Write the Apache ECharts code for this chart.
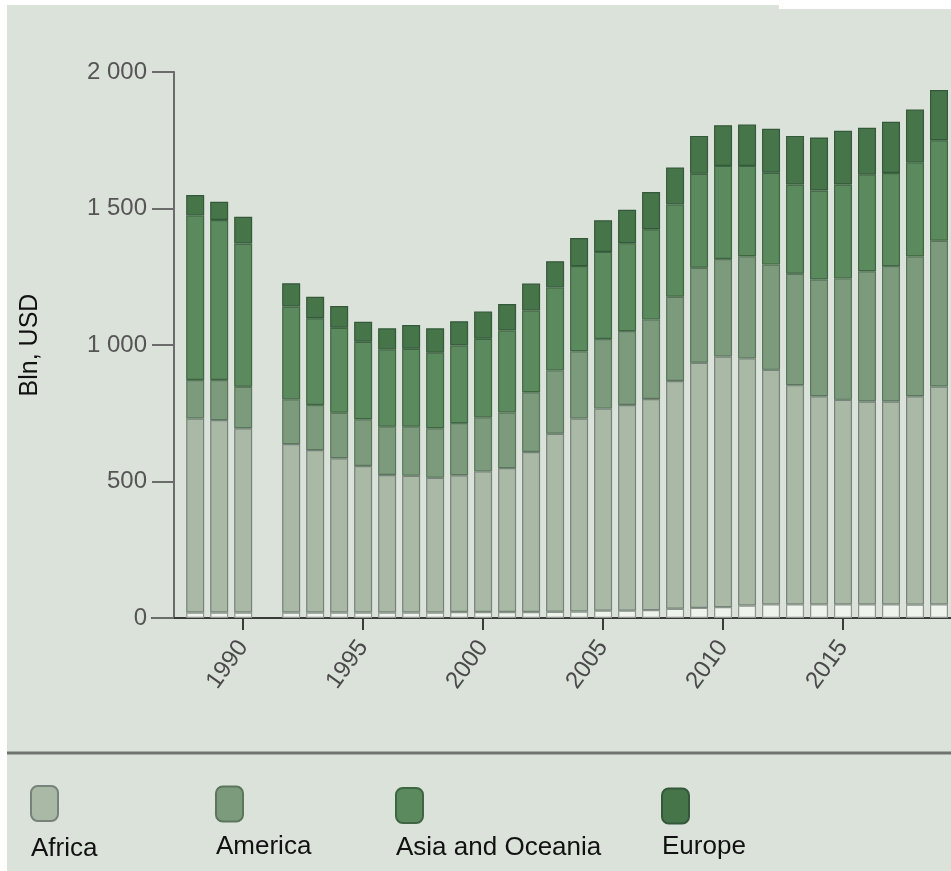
<!DOCTYPE html>
<html>
<head>
<meta charset="utf-8">
<script src="https://cdn.jsdelivr.net/npm/echarts@6/dist/echarts.min.js"></script>
<style>html,body{margin:0;padding:0;background:#fff;}#c{width:951px;height:871px;}</style>
</head>
<body>
<div id="c"></div>
<script>
const years = [1988,1989,1990,1991,1992,1993,1994,1995,1996,1997,1998,1999,2000,2001,2002,2003,2004,2005,2006,2007,2008,2009,2010,2011,2012,2013,2014,2015,2016,2017,2018,2019];
const other   = [20,20,20,null,20,20,20,20,20,20,20,22,22,22,22,23,24,27,27,29,34,37,40,46,50,50,50,50,50,50,49,50];
const africa  = [711,705,675,null,617,595,565,537,504,501,494,501,515,527,586,652,707,740,753,773,834,898,918,905,859,803,762,749,743,743,763,798];
const america = [141,147,152,null,164,165,167,171,177,180,181,191,198,204,219,232,246,255,271,291,309,348,357,374,386,408,428,445,477,496,512,534];
const asia    = [602,586,525,null,340,318,311,284,283,285,277,284,288,300,299,304,312,319,322,331,338,344,341,331,336,327,326,344,354,341,345,368];
const europe  = [75,67,98,null,85,79,80,73,77,87,89,89,100,97,99,96,103,116,122,136,135,139,149,152,161,178,194,197,172,188,194,184];
const xTicks  = [1990,1995,2000,2005,2010,2015];

const FONT = '"Liberation Sans", Arial, sans-serif';
const colors = {Other:'#eef3ec', Africa:'#a9b9a6', America:'#7b9b7c', 'Asia and Oceania':'#5c8a5f', Europe:'#46754a'};
const borders = {Other:'#8b958a', Africa:'#76827a', America:'#5b765c', 'Asia and Oceania':'#3f6642', Europe:'#34583a'};

function mk(name, arr){
  return {
    name: name, type:'bar', stack:'total', barWidth:18,
    // value first so that the value dimension is the stacked one
    data: years.map((y,i)=>[arr[i], y]),
    encode:{x:1, y:0},
    itemStyle:{color:colors[name], borderColor:borders[name], borderWidth:1.2},
    emphasis:{disabled:true}
  };
}
function lg(name, left, top, P){
  return {
    data:[name], left:left, top:top, padding:0, orient:'horizontal',
    itemWidth:27, itemHeight:35, icon:'roundRect', selectedMode:false,
    formatter: n => '{t|' + n + '}',
    textStyle:{rich:{t:{fontFamily:FONT, fontSize:26, lineHeight:30, color:'#111', padding:[P,0,0,-32]}}}
  };
}

const chart = echarts.init(document.getElementById('c'), null, {renderer:'canvas'});
chart.setOption({
  animation:false,
  backgroundColor:'#ffffff',
  textStyle:{fontFamily:FONT},
  graphic:[
    {type:'rect', z:-100, silent:true, shape:{x:7,y:5,width:944,height:866}, style:{fill:'#dbe2da'}},
    {type:'rect', z:-99, silent:true, shape:{x:779,y:0,width:172,height:9}, style:{fill:'#ffffff'}},
    {type:'line', z:-98, silent:true, shape:{x1:7,y1:753,x2:951,y2:753}, style:{stroke:'#707270', lineWidth:3}}
  ],
  grid:{left:152, right:0, top:72, bottom:253, containLabel:false, outerBoundsMode:'none'},
  legend:[
    lg('Africa', 30, 745, 91),
    lg('America', 215, 748, 86),
    lg('Asia and Oceania', 395, 750, 85),
    lg('Europe', 661, 752, 82)
  ],
  xAxis:{
    type:'value', min:1986.2, max:2019.5,
    splitLine:{show:false},
    axisLine:{show:true, lineStyle:{color:'#3a3a3a', width:2}},
    axisTick:{show:true, customValues:xTicks, length:12, lineStyle:{color:'#3a3a3a', width:2}},
    axisLabel:{customValues:xTicks, rotate:54, margin:25, fontSize:24, color:'#4a4a4a', fontFamily:FONT, formatter: v => String(v)}
  },
  yAxis:{
    type:'value', min:0, max:2000, interval:500, offset:-22,
    splitLine:{show:false},
    axisLine:{show:true, lineStyle:{color:'#6b6b6b', width:2}},
    axisTick:{show:true, length:22, lineStyle:{color:'#6b6b6b', width:2}},
    axisLabel:{margin:27, fontSize:24, color:'#555555', fontFamily:FONT,
      formatter: v => v >= 1000 ? String(v).replace(/(\d)(\d{3})$/, '$1 $2') : String(v)},
    name:'Bln, USD', nameLocation:'middle', nameGap:131,
    nameTextStyle:{fontSize:25, color:'#111', fontFamily:FONT}
  },
  series:[mk('Other', other), mk('Africa', africa), mk('America', america), mk('Asia and Oceania', asia), mk('Europe', europe)]
});
</script>
</body>
</html>
